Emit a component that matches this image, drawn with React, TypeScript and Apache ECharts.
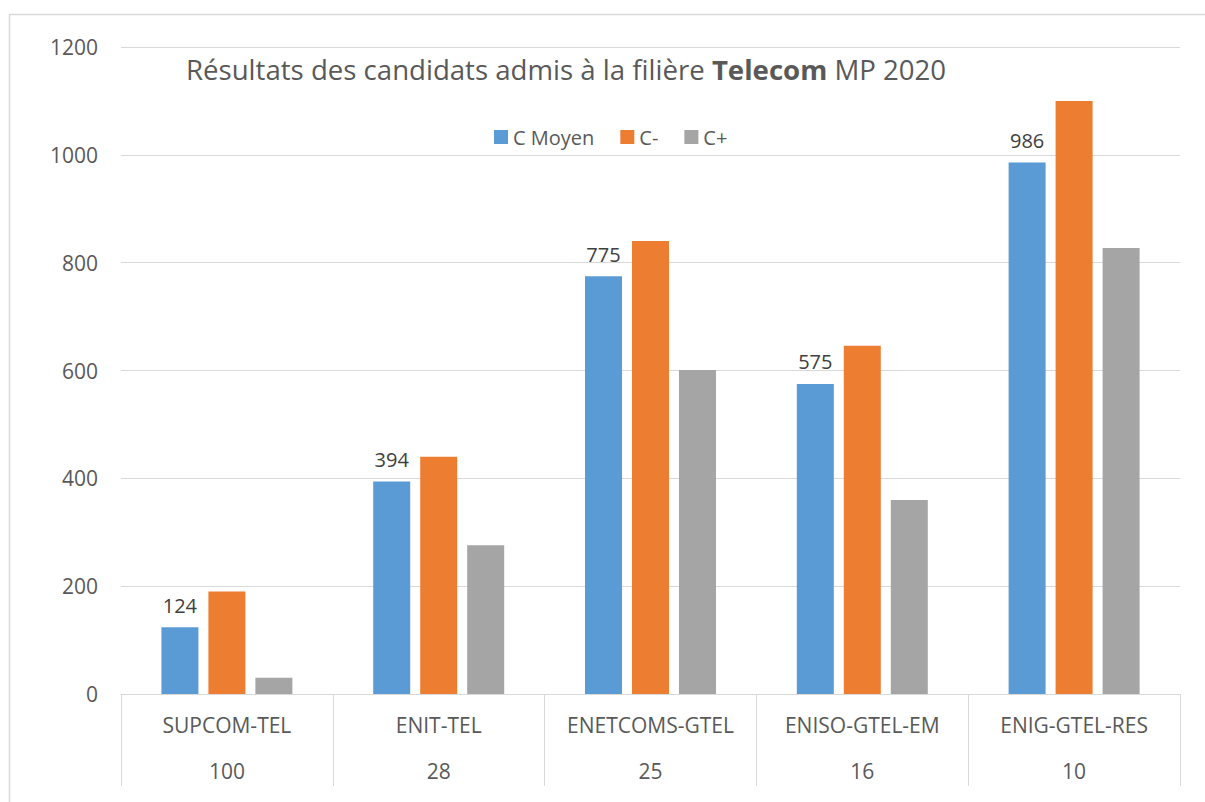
import React, { useEffect, useRef } from "react";
import * as echarts from "echarts";

const categories = ["SUPCOM-TEL", "ENIT-TEL", "ENETCOMS-GTEL", "ENISO-GTEL-EM", "ENIG-GTEL-RES"];
const groupCounts = ["100", "28", "25", "16", "10"];
const seriesNames = ["C Moyen", "C-", "C+"];
const cMoyen = [124, 394, 775, 575, 986];
const cMinus = [190, 440, 840, 646, 1100];
const cPlus = [30, 276, 601, 360, 827];
const yTicks = { min: 0, max: 1200, interval: 200 };

const FONT = "'Open Sans', 'Noto Sans', sans-serif";

export default function App() {
  const ref = useRef<HTMLDivElement>(null);
  useEffect(() => {
    document.body.style.margin = "0";
    const chart = echarts.init(ref.current!, null, { renderer: "svg" });
    const labels = categories.map((c, i) => c + "\n" + groupCounts[i]);
    chart.setOption({
      animation: false,
      backgroundColor: "#ffffff",
      textStyle: { fontFamily: FONT },
      title: {
        left: 181,
        top: 50,
        text: "{a|Résultats des candidats admis à la filière }{b|Telecom}{a| MP 2020}",
        textStyle: {
          fontWeight: "normal",
          rich: {
            a: { fontSize: 27.6, color: "#595959", fontWeight: "normal", fontFamily: FONT },
            b: { fontSize: 27.6, color: "#595959", fontWeight: "bold", fontFamily: FONT },
          },
        },
      },
      legend: {
        left: 489,
        top: 122,
        itemWidth: 14,
        itemHeight: 14,
        itemGap: 26,
        icon: "rect",
        textStyle: { fontSize: 20, color: "#595959", fontFamily: FONT },
        data: seriesNames,
      },
      grid: { left: 121, right: 25, top: 47, bottom: 108, containLabel: false },
      xAxis: {
        type: "category",
        data: labels,
        boundaryGap: true,
        axisLine: { lineStyle: { color: "#d9d9d9", width: 1 } },
        axisTick: { show: true, length: 92, interval: 0, lineStyle: { color: "#d9d9d9" } },
        axisLabel: {
          interval: 0,
          margin: 8,
          color: "#595959",
          fontSize: 21,
          lineHeight: 46,
          fontFamily: FONT,
        },
      },
      yAxis: {
        type: "value",
        min: yTicks.min,
        max: yTicks.max,
        interval: yTicks.interval,
        axisLine: { show: false },
        axisTick: { show: false },
        splitLine: { lineStyle: { color: "#d9d9d9", width: 1 } },
        axisLabel: {
          color: "#595959",
          fontSize: 21,
          margin: 23,
          fontFamily: FONT,
          formatter: (v: number) => String(v),
        },
      },
      series: [
        {
          name: seriesNames[0],
          type: "bar",
          data: cMoyen,
          barWidth: 37,
          barGap: "27%",
          itemStyle: { color: "#5b9bd5" },
          label: {
            show: true,
            position: "top",
            distance: 12,
            color: "#404040",
            fontSize: 20,
            fontFamily: FONT,
          },
        },
        { name: seriesNames[1], type: "bar", data: cMinus, barWidth: 37, barGap: "27%", itemStyle: { color: "#ed7d31" } },
        { name: seriesNames[2], type: "bar", data: cPlus, barWidth: 37, barGap: "27%", itemStyle: { color: "#a5a5a5" } },
      ],
      graphic: [
        { type: "line", shape: { x1: 9, y1: 14.5, x2: 1205, y2: 14.5 }, style: { stroke: "#d9d9d9", lineWidth: 1.5 } },
        { type: "line", shape: { x1: 9.5, y1: 14.5, x2: 9.5, y2: 802 }, style: { stroke: "#d9d9d9", lineWidth: 1.5 } },
      ],
    });
    return () => chart.dispose();
  }, []);
  return <div ref={ref} style={{ width: 1205, height: 802 }} />;
}
